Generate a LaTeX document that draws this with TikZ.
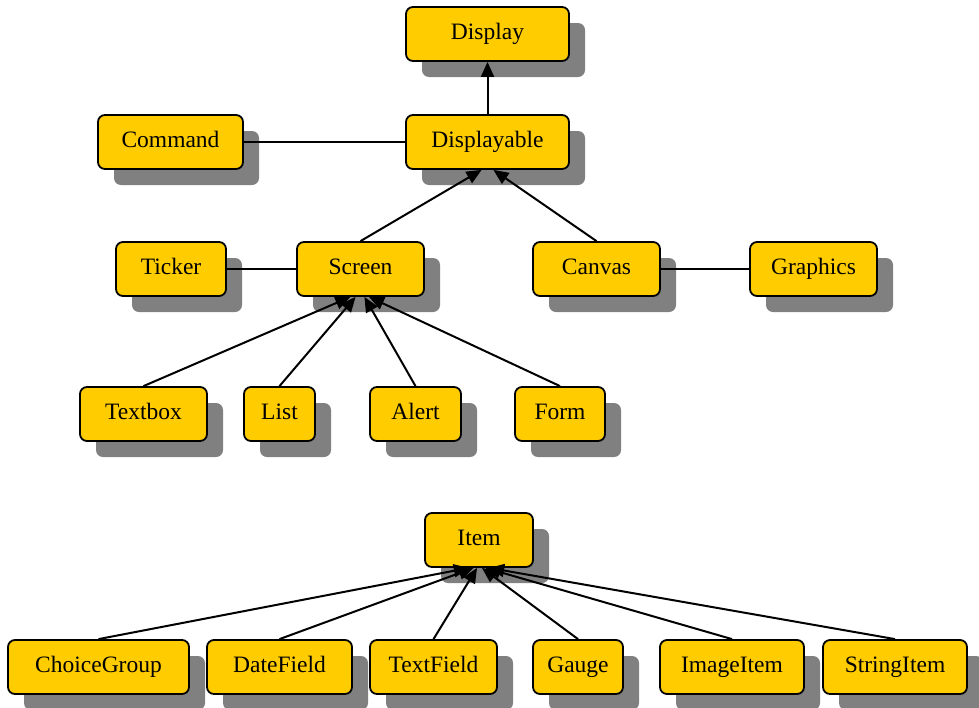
\documentclass[tikz,border=0pt]{standalone}
\usepackage{fontspec}
\setmainfont{Liberation Serif}
\usetikzlibrary{arrows.meta}
\usetikzlibrary{shadows}
\definecolor{gold}{RGB}{255,204,0}
\definecolor{shade}{RGB}{128,128,128}

\begin{document}
\begin{tikzpicture}[
    x=0.5pt, y=-0.5pt,
    box/.style={rectangle, draw, line width=0.9pt, rounded corners=3.5pt, fill=gold, minimum height=27pt, inner sep=0pt, text height=8pt, text depth=3pt, font=\fontsize{11.75}{14}\selectfont, drop shadow={shadow xshift=8pt, shadow yshift=-8pt, fill=shade, opacity=1}},
    link/.style={line width=1pt},
    >={Triangle[length=7.5pt, width=6.5pt]}
]
    \useasboundingbox (0,0) rectangle (979,707);

    % display classes
    \node[box, minimum width=81.5pt] (display) at (487.5,34) {Display};
    \node[box, minimum width=81.5pt] (displayable) at (487.5,142) {Displayable};
    \node[box, minimum width=72.5pt] (command) at (170.5,142) {Command};
    \node[box, minimum width=55pt] (ticker) at (171,269) {Ticker};
    \node[box, minimum width=63.5pt] (screen) at (360.5,269) {Screen};
    \node[box, minimum width=63.5pt] (canvas) at (596.5,269) {Canvas};
    \node[box, minimum width=63.5pt] (graphics) at (813.5,269) {Graphics};
    \node[box, minimum width=63.5pt] (textbox) at (143.5,414) {Textbox};
    \node[box, minimum width=35.5pt] (list) at (279.5,414) {List};
    \node[box, minimum width=45.5pt] (alert) at (415.5,414) {Alert};
    \node[box, minimum width=45pt] (form) at (560,414) {Form};

    % item classes
    \node[box, minimum width=54pt] (item) at (479,540) {Item};
    \node[box, minimum width=90.5pt] (choicegroup) at (98.5,667) {ChoiceGroup};
    \node[box, minimum width=72.5pt] (datefield) at (279.5,667) {DateField};
    \node[box, minimum width=63.5pt] (textfield) at (433.5,667) {TextField};
    \node[box, minimum width=45pt] (gauge) at (578,667) {Gauge};
    \node[box, minimum width=72pt] (imageitem) at (732,667) {ImageItem};
    \node[box, minimum width=72pt] (stringitem) at (895,667) {StringItem};

    \draw[link, ->] (displayable.north) -- (display.south);
    \draw[link] (command) -- (displayable);
    \draw[link, ->] (screen.north) -- (displayable.-102);
    \draw[link, ->] (canvas.north) -- (displayable.-78);
    \draw[link] (ticker) -- (screen);
    \draw[link] (canvas) -- (graphics);

    \draw[link, ->] (textbox.north) -- (screen.-110);
    \draw[link, ->] (list.north) -- (screen.-100);
    \draw[link, ->] (alert.north) -- (screen.-82);
    \draw[link, ->] (form.north) -- (screen.-73);

    \draw[link, ->] (choicegroup.north) -- (item.-110);
    \draw[link, ->] (datefield.north) -- (item.-101);
    \draw[link, ->] (textfield.north) -- (item.-94);
    \draw[link, ->] (gauge.north) -- (item.-84);
    \draw[link, ->] (imageitem.north) -- (item.-77);
    \draw[link, ->] (stringitem.north) -- (item.-70);
\end{tikzpicture}
\end{document}
